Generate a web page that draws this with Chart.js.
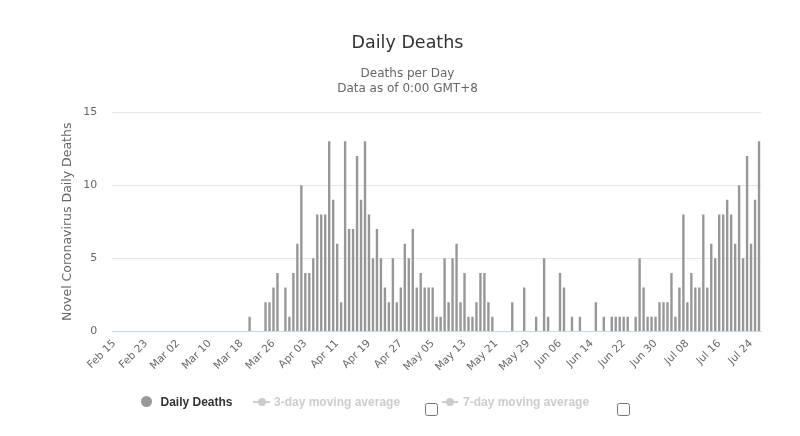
<!DOCTYPE html>
<html>
<head>
<meta charset="utf-8">
<title>Daily Deaths</title>
<script src="https://cdn.jsdelivr.net/npm/chart.js@4/dist/chart.umd.min.js"></script>
<style>
  html, body { margin: 0; padding: 0; background: #fff; overflow: hidden; }
  #wrap { position: relative; width: 800px; height: 436px; }
  #rateChart { position: absolute; left: 0; top: 0; }
  .title { position: absolute; left: 0; width: 815px; text-align: center; font-family: "DejaVu Sans", sans-serif; white-space: nowrap; }
  #chartTitle { top: 32px; font-size: 17.5px; line-height: 20px; color: #333; }
  #chartSub { top: 65.5px; font-size: 12px; line-height: 15.4px; color: #666; }
  .leg { position: absolute; font-family: "Liberation Sans", Arial, sans-serif; font-weight: bold; font-size: 12px; line-height: 14px; white-space: nowrap; top: 394.5px; }
  .leg.off { color: #ccc; }
  .dot { position: absolute; border-radius: 50%; }
  .sym { position: absolute; height: 2px; background: #ccc; top: 401px; }
  .sym::after { content: ""; position: absolute; left: 50%; top: -3px; width: 8px; height: 8px; margin-left: -4px; border-radius: 50%; background: #ccc; }
  input[type=checkbox] { position: absolute; margin: 0; width: 13px; height: 13px; }
</style>
</head>
<body>
<div id="wrap">
  <canvas id="rateChart" width="800" height="436"></canvas>
  <div class="title" id="chartTitle">Daily Deaths</div>
  <div class="title" id="chartSub">Deaths per Day<br>Data as of 0:00 GMT+8</div>

  <div class="dot" style="left:141px;top:396px;width:11px;height:11px;background:#999;"></div>
  <div class="leg" style="left:160.5px;color:#333;">Daily Deaths</div>

  <div class="sym" style="left:253px;width:17px;"></div>
  <div class="leg off" style="left:274px;">3-day moving average</div>
  <input type="checkbox" style="left:424.5px;top:402.5px;">

  <div class="sym" style="left:442px;width:16px;"></div>
  <div class="leg off" style="left:463px;">7-day moving average</div>
  <input type="checkbox" style="left:616.5px;top:403px;">
</div>

<script>
const MONTHS = ["Jan", "Feb", "Mar", "Apr", "May", "Jun", "Jul", "Aug", "Sep", "Oct", "Nov", "Dec"];
const startDate = "2020-02-15";
const dayCount = 163;

// labels shown on the x axis (every 8th day)
const tickLabels = [
  "Feb 15", "Feb 23", "Mar 02", "Mar 10", "Mar 18", "Mar 26", "Apr 03",
  "Apr 11", "Apr 19", "Apr 27", "May 05", "May 13", "May 21", "May 29",
  "Jun 06", "Jun 14", "Jun 22", "Jun 30", "Jul 08", "Jul 16", "Jul 24"
];

const yTicks = [0, 5, 10, 15];

// Feb 15 .. Jul 26
const dailyDeaths = [
  0, 0, 0, 0, 0, 0, 0, 0, 0, 0,
  0, 0, 0, 0, 0, 0, 0, 0, 0, 0,
  0, 0, 0, 0, 0, 0, 0, 0, 0, 0,
  0, 0, 0, 0, 1, 0, 0, 0, 2, 2,
  3, 4, 0, 3, 1, 4, 6, 10, 4, 4,
  5, 8, 8, 8, 13, 9, 6, 2, 13, 7,
  7, 12, 9, 13, 8, 5, 7, 5, 3, 2,
  5, 2, 3, 6, 5, 7, 3, 4, 3, 3,
  3, 1, 1, 5, 2, 5, 6, 2, 4, 1,
  1, 2, 4, 4, 2, 1, 0, 0, 0, 0,
  2, 0, 0, 3, 0, 0, 1, 0, 5, 1,
  0, 0, 4, 3, 0, 1, 0, 1, 0, 0,
  0, 2, 0, 1, 0, 1, 1, 1, 1, 1,
  0, 1, 5, 3, 1, 1, 1, 2, 2, 2,
  4, 1, 3, 8, 2, 4, 3, 3, 8, 3,
  6, 5, 8, 8, 9, 8, 6, 10, 5, 12,
  6, 9, 13
];

function buildCategories() {
  const out = [];
  const d = new Date(startDate + "T00:00:00Z");
  for (let i = 0; i < dayCount; i++) {
    const day = String(d.getUTCDate()).padStart(2, "0");
    out.push(`${MONTHS[d.getUTCMonth()]} ${day}`);
    d.setUTCDate(d.getUTCDate() + 1);
  }
  return out;
}

const categories = buildCategories();
const font = "'DejaVu Sans', sans-serif";

new Chart(document.getElementById("rateChart"), {
  type: "bar",
  data: {
    labels: categories,
    datasets: [{
      label: "Daily Deaths",
      data: dailyDeaths,
      backgroundColor: "#979797",
      categoryPercentage: 1,
      barPercentage: 0.6
    }]
  },
  options: {
    responsive: false,
    animation: false,
    layout: { padding: { top: 112, right: 39, left: 0, bottom: 0 } },
    plugins: {
      legend: { display: false },
      tooltip: { enabled: false }
    },
    scales: {
      x: {
        grid: { display: false, drawTicks: false },
        border: { color: "#ccd6eb", width: 1 },
        ticks: {
          autoSkip: false,
          minRotation: 45,
          maxRotation: 45,
          padding: 6,
          color: "#666",
          font: { family: font, size: 10.5 },
          callback: (v, i) => tickLabels.includes(categories[i]) ? categories[i] : null
        },
        afterFit: s => { s.height = 104.5; }
      },
      y: {
        min: 0,
        max: 15,
        afterBuildTicks: s => { s.ticks = yTicks.map(v => ({ value: v })); },
        grid: {
          drawTicks: false,
          color: c => c.tick && c.tick.value === 0 ? "rgba(0,0,0,0)" : "#e6e6e6"
        },
        border: { display: false },
        ticks: {
          padding: 15,
          color: "#666",
          font: { family: font, size: 11 }
        },
        title: {
          display: true,
          text: "Novel Coronavirus Daily Deaths",
          color: "#666",
          font: { family: font, size: 12.5 },
          padding: { top: 60, bottom: 0 }
        },
        afterFit: s => { s.width = 112.3; }
      }
    }
  }
});
</script>
</body>
</html>
